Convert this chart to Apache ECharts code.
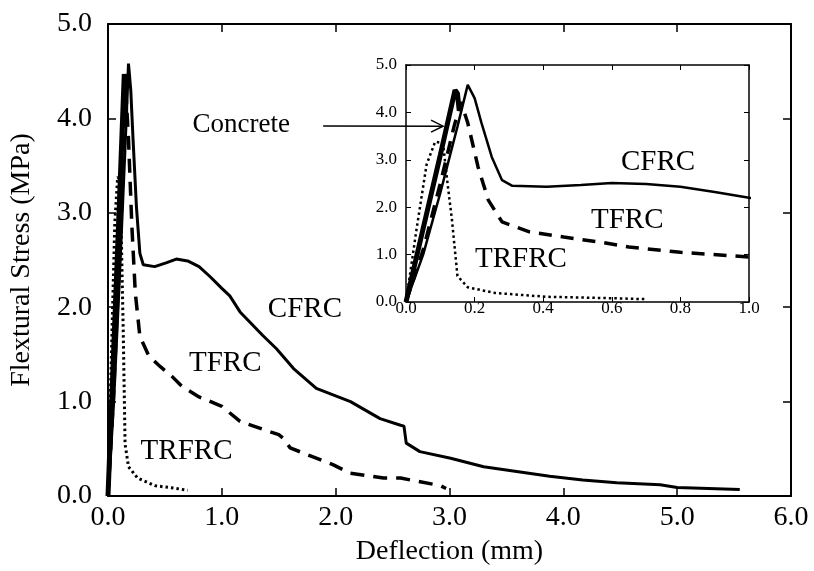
<!DOCTYPE html>
<html>
<head>
<meta charset="utf-8">
<script src="https://cdn.jsdelivr.net/npm/echarts@6/dist/echarts.min.js"></script>
<style>
  html, body { margin: 0; padding: 0; background: #fff; }
  #chart { width: 814px; height: 571px; }
</style>
</head>
<body>
<div id="chart"></div>
<script>
// 读图得到的数据 (deflection mm, stress MPa)
const cfrc = [[0,0],[0.05,1.0],[0.1,2.3],[0.15,3.7],[0.18,4.58],[0.2,4.3],[0.22,3.78],[0.25,3.06],[0.28,2.57],[0.31,2.45],[0.41,2.43],[0.51,2.47],[0.6,2.51],[0.7,2.49],[0.8,2.43],[0.9,2.32],[1.0,2.2],[1.07,2.12],[1.16,1.95],[1.36,1.7],[1.48,1.56],[1.63,1.35],[1.83,1.14],[2.13,1.0],[2.39,0.82],[2.57,0.75],[2.6,0.74],[2.62,0.56],[2.74,0.47],[3.01,0.4],[3.3,0.31],[3.59,0.26],[3.88,0.21],[4.17,0.17],[4.47,0.14],[4.85,0.12],[5.0,0.09],[5.55,0.07]];
const tfrc = [[0,0],[0.05,1.1],[0.1,2.5],[0.14,3.7],[0.16,4.22],[0.18,3.78],[0.21,2.85],[0.24,2.15],[0.28,1.69],[0.36,1.48],[0.46,1.37],[0.56,1.27],[0.65,1.16],[0.8,1.05],[1.0,0.95],[1.16,0.79],[1.4,0.69],[1.5,0.65],[1.54,0.61],[1.6,0.51],[1.83,0.4],[1.98,0.33],[2.13,0.24],[2.42,0.19],[2.57,0.19],[2.92,0.11],[2.97,0.08]];
const trfrc = [[0,0],[0.03,1.5],[0.06,2.9],[0.085,3.38],[0.108,3.35],[0.12,2.57],[0.134,1.73],[0.15,0.55],[0.18,0.31],[0.26,0.19],[0.41,0.11],[0.6,0.08],[0.7,0.06]];
const concrete = [[0,0],[0.05,1.55],[0.1,3.1],[0.143,4.47],[0.15,4.4],[0.155,4.05]];

// 标注文字 (数据坐标)
const mainLabels = [['CFRC', 1.73, 1.98], ['TFRC', 1.03, 1.4], ['TRFRC', 0.69, 0.47], ['Concrete', 1.17, 3.93]];
const insetLabels = [['CFRC', 0.735, 2.95], ['TFRC', 0.645, 1.73], ['TRFRC', 0.335, 0.89]];
const arrowFrom = [1.89, 3.92];   // main axes
const arrowTo = [0.108, 3.71];    // inset axes

const FONT = "'Liberation Serif', 'DejaVu Serif', serif";
const chart = echarts.init(document.getElementById('chart'));

function fmt(v) { return v.toFixed(1); }

function axis(opt) {
  // 公共坐标轴样式
  return Object.assign({
    type: 'value',
    splitLine: { show: false },
    axisLine: { show: true, onZero: false, lineStyle: { color: '#000', width: 2 } },
    axisTick: { show: true, inside: true, length: 8, lineStyle: { color: '#000', width: 1.5 } },
    axisLabel: { show: false }
  }, opt);
}

function line(name, data, xi, yi, style) {
  return {
    name: name,
    type: 'line',
    xAxisIndex: xi,
    yAxisIndex: yi,
    data: data,
    showSymbol: false,
    clip: true,
    z: 10,
    animation: false,
    lineStyle: Object.assign({ color: '#000' }, style)
  };
}

const mainLabel = { show: true, color: '#000', fontFamily: FONT, fontSize: 28, formatter: fmt };
const insetLabel = { show: true, color: '#000', fontFamily: FONT, fontSize: 17, formatter: fmt };
const insetLine = { show: true, onZero: false, lineStyle: { color: '#000', width: 1.5 } };
const insetTick = { show: true, inside: true, length: 5, lineStyle: { color: '#000' } };

chart.setOption({
  backgroundColor: '#fff',
  animation: false,
  grid: [
    { left: 108, right: 23, top: 24, bottom: 73, show: false },
    { left: 406, right: 65, top: 65, bottom: 269, show: true, backgroundColor: '#fff', borderWidth: 0 }
  ],
  xAxis: [
    axis({ gridIndex: 0, position: 'bottom', min: 0, max: 6, interval: 1,
      axisLabel: Object.assign({}, mainLabel, { margin: 8 }),
      name: 'Deflection (mm)', nameLocation: 'middle', nameGap: 42,
      nameTextStyle: { color: '#000', fontFamily: FONT, fontSize: 28 } }),
    axis({ gridIndex: 0, position: 'top', min: 0, max: 6, interval: 1 }),
    axis({ gridIndex: 1, position: 'bottom', min: 0, max: 1, interval: 0.2,
      axisLine: insetLine, axisTick: insetTick,
      axisLabel: Object.assign({}, insetLabel, { margin: -2 }) }),
    axis({ gridIndex: 1, position: 'top', min: 0, max: 1, interval: 0.2,
      axisLine: insetLine, axisTick: insetTick })
  ],
  yAxis: [
    axis({ gridIndex: 0, position: 'left', min: 0, max: 5, interval: 1,
      axisLabel: Object.assign({}, mainLabel, { margin: 16 }),
      name: 'Flextural Stress (MPa)', nameLocation: 'middle', nameGap: 72, nameRotate: 90,
      nameTextStyle: { color: '#000', fontFamily: FONT, fontSize: 28 } }),
    axis({ gridIndex: 0, position: 'right', min: 0, max: 5, interval: 1 }),
    axis({ gridIndex: 1, position: 'left', min: 0, max: 5, interval: 1,
      axisLine: insetLine, axisTick: insetTick,
      axisLabel: Object.assign({}, insetLabel, { margin: 9 }) }),
    axis({ gridIndex: 1, position: 'right', min: 0, max: 5, interval: 1,
      axisLine: insetLine, axisTick: insetTick })
  ],
  series: [
    line('CFRC', cfrc, 0, 0, { width: 3 }),
    line('TFRC', tfrc, 0, 0, { width: 3.5, type: [14, 9] }),
    line('TRFRC', trfrc, 0, 0, { width: 3, type: [2.5, 3] }),
    line('Concrete', concrete, 0, 0, { width: 5 }),
    line('CFRC', cfrc, 2, 2, { width: 2.5 }),
    line('TFRC', tfrc, 2, 2, { width: 3.5, type: [13, 9] }),
    line('TRFRC', trfrc, 2, 2, { width: 2.5, type: [2.5, 3] }),
    line('Concrete', concrete, 2, 2, { width: 5 })
  ]
});

// 文字标注与箭头
const graphics = [];
mainLabels.forEach(function (l) {
  const p = chart.convertToPixel({ seriesIndex: 0 }, [l[1], l[2]]);
  graphics.push({ type: 'text', x: p[0], y: p[1], z: 20,
    style: { text: l[0], fill: '#000', font: (l[0] === 'Concrete' ? 27 : 29) + "px " + FONT, align: 'center', verticalAlign: 'middle' } });
});
insetLabels.forEach(function (l) {
  const p = chart.convertToPixel({ seriesIndex: 4 }, [l[1], l[2]]);
  graphics.push({ type: 'text', x: p[0], y: p[1], z: 20,
    style: { text: l[0], fill: '#000', font: "29px " + FONT, align: 'center', verticalAlign: 'middle' } });
});
const a0 = chart.convertToPixel({ seriesIndex: 0 }, arrowFrom);
const a1 = chart.convertToPixel({ seriesIndex: 4 }, arrowTo);
graphics.push({ type: 'line', z: 20, shape: { x1: a0[0], y1: a0[1], x2: a1[0], y2: a1[1] }, style: { stroke: '#000', lineWidth: 1.5 } });
graphics.push({ type: 'polyline', z: 20, shape: { points: [[a1[0] - 12, a1[1] - 6], [a1[0], a1[1]], [a1[0] - 12, a1[1] + 6]] }, style: { stroke: '#000', lineWidth: 1.5, fill: null } });
chart.setOption({ graphic: graphics });
</script>
</body>
</html>
